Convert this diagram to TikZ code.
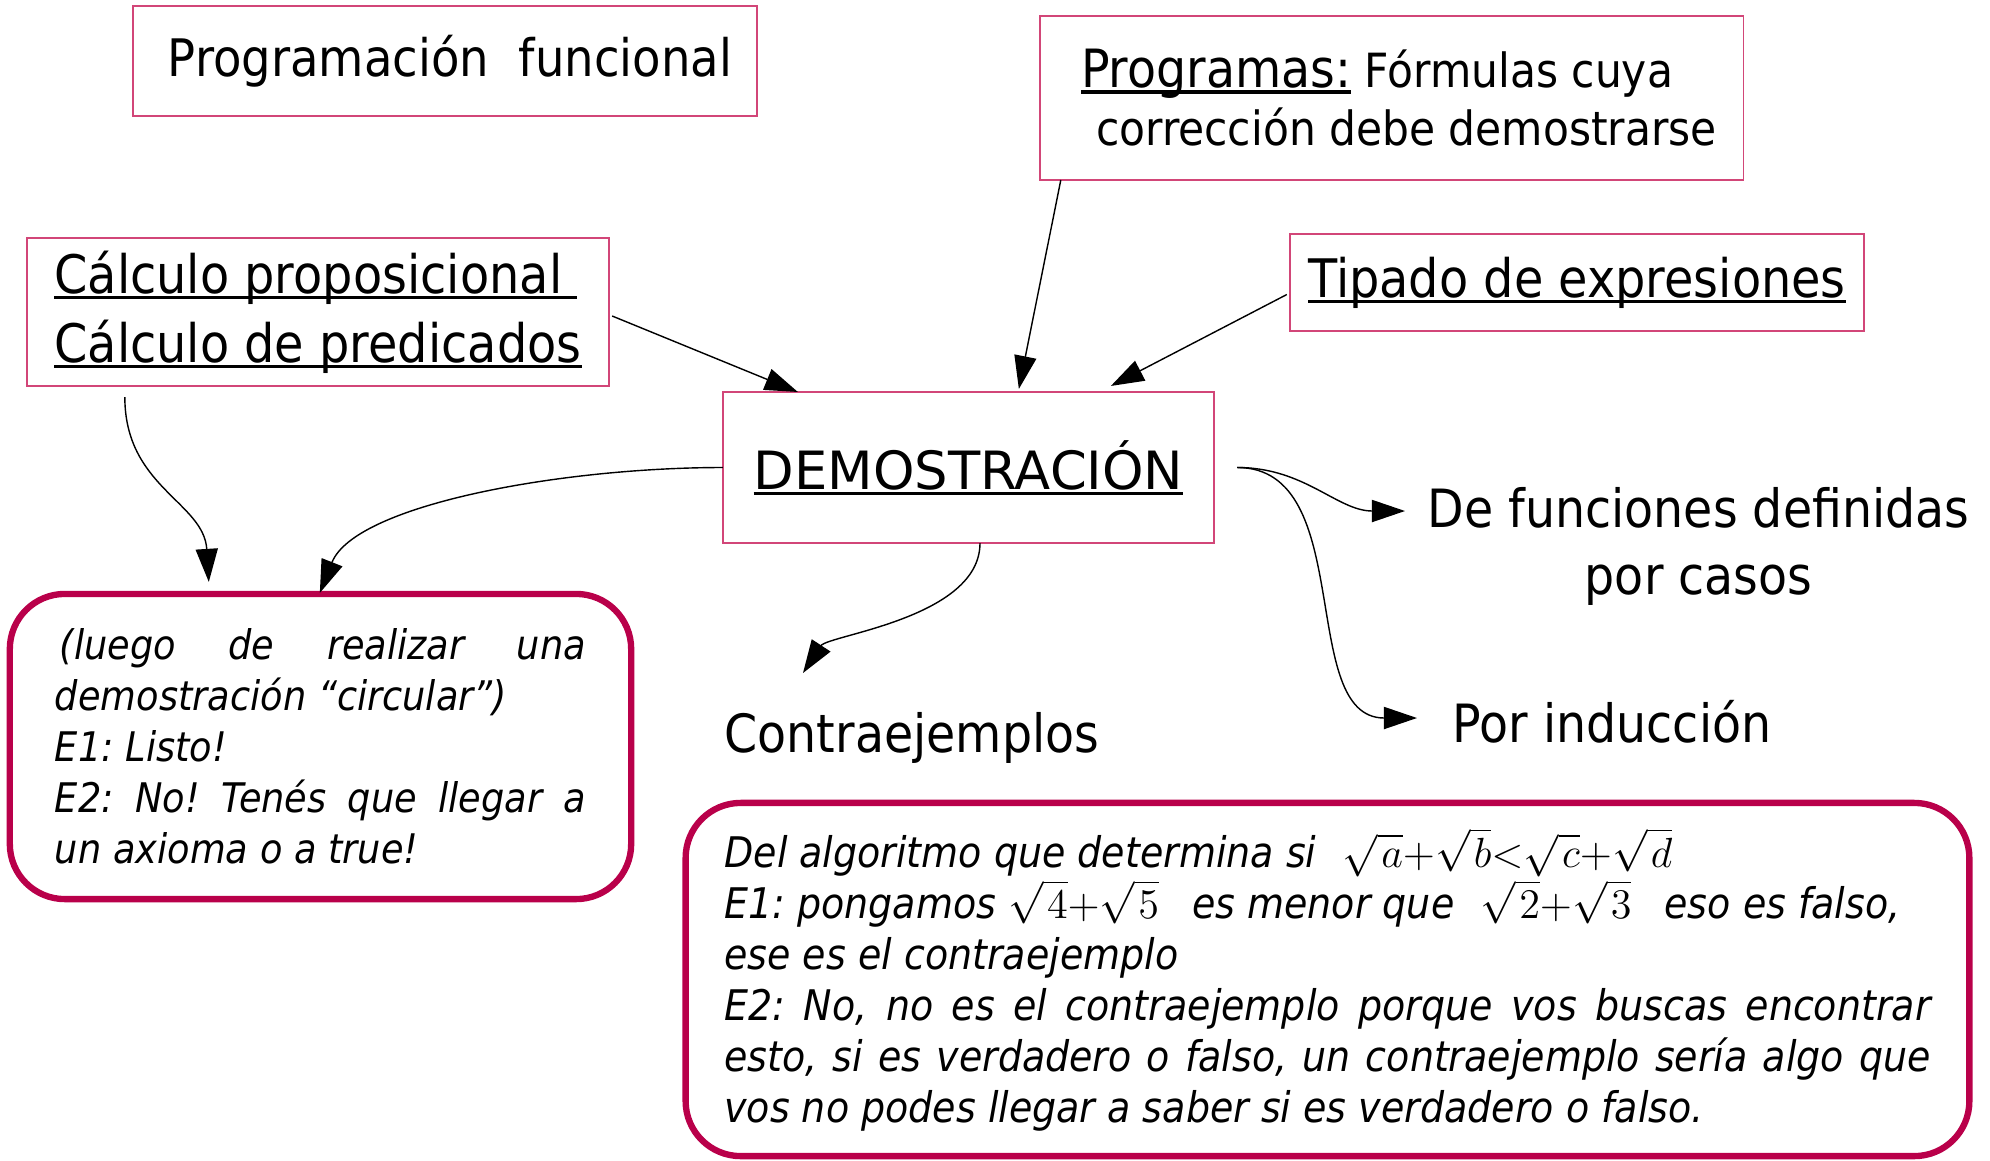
\documentclass[tikz,border=0pt]{standalone}
\usepackage{amsmath}
\usepackage{fontspec}
\setmainfont{DejaVu Sans}[FakeStretch=0.9]
\newfontfamily\plainfont{DejaVu Sans}
\usepackage{tikz}
\usetikzlibrary{arrows.meta,calc}
\frenchspacing

\definecolor{boxpink}{RGB}{210,70,120}
\definecolor{talkred}{RGB}{185,0,74}
\newcommand{\uln}[1]{\setbox0\hbox{#1}\rlap{\rule[-1.6pt]{\wd0}{0.9pt}}\box0} % underline at a fixed depth
\newcommand{\bigmath}[1]{{\fontsize{13}{14.5}\selectfont$#1$}} % formulas a bit larger than the text
\newcommand{\rt}[1]{\sqrt{\mkern1.5mu#1}}

\begin{document}
\begin{tikzpicture}[x=0.01cm, y=-0.01cm,
		pinkbox/.style={draw=boxpink, line width=0.4pt, inner sep=0pt, outer sep=0pt},
		talkbox/.style={draw=talkred, line width=1.8pt, rounded corners=0.55cm, inner sep=0pt, outer sep=0pt, align=justify},
		link/.style={-{Triangle[length=9.4pt,width=6.3pt]}, line width=0.4pt}]
	\useasboundingbox (0,0) rectangle (1990,1160);
	
	% Boxes
	\node[pinkbox, minimum width=6.24cm, minimum height=1.10cm, font=\fontsize{14.7}{18}\selectfont] (prog) at (445,61) {\hspace*{0.1cm}Programación\ \ funcional};
	\node[pinkbox, minimum width=7.03cm, minimum height=1.64cm, align=left, font=\fontsize{13.4}{16.5}\selectfont] (progs) at (1391.5,98) {\hspace*{0.15cm}{\fontsize{15}{16.5}\selectfont\uln{Programas:}} Fórmulas cuya\\\hspace*{0.3cm}corrección debe demostrarse};
	\node[pinkbox, minimum width=5.82cm, minimum height=1.48cm, align=left, font=\fontsize{15.1}{19.6}\selectfont] (logic) at (318,312) {\uln{Cálculo proposicional\ }\\\uln{Cálculo de predicados}};
	\node[pinkbox, minimum width=5.74cm, minimum height=0.97cm, font=\fontsize{15.1}{18}\selectfont] (tipos) at (1577,282.5) {\uln{Tipado de expresiones}};
	\node[pinkbox, minimum width=4.91cm, minimum height=1.51cm, font=\plainfont\fontsize{15}{18}\selectfont] (demo) at (968.5,467.5) {\uln{DEMOSTRACIÓN}};
	
	% Plain texts
	\node[anchor=north west, align=center, inner sep=0pt, font=\fontsize{15}{19}\selectfont] (casos) at (1427,487) {De funciones definidas\\por casos};
	\node[anchor=base west, inner sep=0pt, font=\fontsize{15}{18}\selectfont] (induc) at (1452,742) {Por inducción};
	\node[anchor=base west, inner sep=0pt, font=\fontsize{15}{18}\selectfont] (contra) at (724,752) {Contraejemplos};
	
	% Dialogues
	\node[talkbox, minimum width=6.21cm, minimum height=3.05cm, text width=151pt, font=\itshape\fontsize{11.6}{14.5}\selectfont] (charla1) at (320.5,746.5) {\hspace*{0.05cm}(luego de realizar una\linebreak demostración “circular”)\\E1: Listo!\\E2: No! Tenés que llegar a\linebreak un axioma o a true!};
	\node[talkbox, minimum width=12.83cm, minimum height=3.53cm, text width=343pt, font=\itshape\fontsize{12}{14.5}\selectfont] (charla2) at (1327.5,979.5) {Del algoritmo que determina si\hspace{4pt} \bigmath{\rt{a}{+}\rt{b}{<}\rt{c}{+}\rt{d}}\\E1: pongamos \bigmath{\rt{4}{+}\rt{5}}\hspace{6pt} es menor que\hspace{4pt} \bigmath{\rt{2}{+}\rt{3}}\hspace{6pt} eso es falso,\\ese es el contraejemplo\\E2: No, no es el contraejemplo porque vos buscas encontrar\linebreak esto, si es verdadero o falso, un contraejemplo sería algo que\linebreak vos no podes llegar a saber si es verdadero o falso.};
	
	% Arrows into DEMOSTRACION
	\draw[link] ($(progs.south west)+(21,0)$) -- ($(demo.north west)+(296,-3)$);
	\draw[link] ($(logic.east)+(3,4)$) -- ($(demo.north west)+(75,0)$);
	\draw[link] ($(tipos.west)+(-3,12)$) -- ($(demo.north west)+(388,-6)$);
	
	% Curved arrows
	\draw[link] ($(logic.south west)+(98,11)$) .. controls +(0,90) and +(-5,-80) .. ($(charla1.north west)+(199,-12)$);
	\draw[link] (demo.west) .. controls +(-162,0) and +(35,-88) .. ($(charla1.north west)+(310,-1)$);
	\draw[link] ($(demo.south)+(11.5,0)$) .. controls +(0,75) and +(25,-38) .. ($(contra.base west)+(79,-79)$);
	\coordinate (fork) at ($(demo.east)+(23,0)$); % both right arrows start here
	\draw[link] (fork) to[out=0,in=180] ($(casos.north west)+(-22,24)$);
	\draw[link] (fork) to[out=0,in=180] ($(induc.base west)+(-35,-24)$);
\end{tikzpicture}
\end{document}
